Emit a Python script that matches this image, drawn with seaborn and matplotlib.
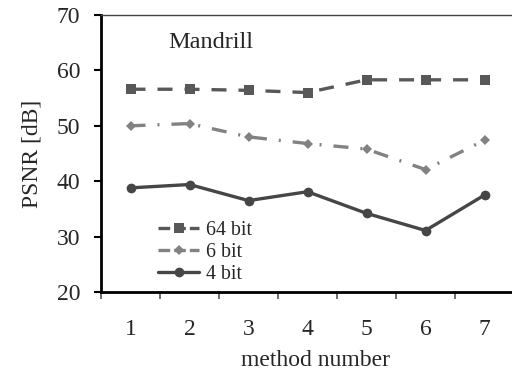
import matplotlib
matplotlib.use("Agg")
import matplotlib.pyplot as plt
import seaborn as sns
import pandas as pd
from matplotlib.ticker import FixedLocator

methods = [1, 2, 3, 4, 5, 6, 7]
psnr_64bit = [56.6, 56.6, 56.4, 56.0, 58.3, 58.3, 58.3]
psnr_6bit = [50.0, 50.4, 48.0, 46.8, 45.8, 42.1, 47.4]
psnr_4bit = [38.8, 39.4, 36.5, 38.1, 34.2, 31.1, 37.5]
series_names = ["64 bit", "6 bit", "4 bit"]
y_ticks = [20, 30, 40, 50, 60, 70]

df = pd.DataFrame({
    "method": methods * 3,
    "psnr": psnr_64bit + psnr_6bit + psnr_4bit,
    "series": [series_names[0]] * 7 + [series_names[1]] * 7 + [series_names[2]] * 7,
})

sns.set_style("white")
plt.rcParams["font.family"] = ["Liberation Serif", "DejaVu Serif"]

fig = plt.figure(figsize=(5.12, 3.74), dpi=100)
ax = fig.add_axes([101 / 512, 1 - 292 / 374, 413 / 512, 277 / 374])

palette = {"64 bit": "#585858", "6 bit": "#828282", "4 bit": "#464646"}
dashes = {"64 bit": (4.5, 3.6), "6 bit": (4.5, 3.6, 0.6, 3.6), "4 bit": ""}
markers = {"64 bit": "s", "6 bit": "D", "4 bit": "o"}

sns.lineplot(data=df, x="method", y="psnr", hue="series", style="series",
             palette=palette, dashes=dashes, markers=markers,
             hue_order=series_names, style_order=series_names,
             linewidth=2.4, markersize=7, markeredgewidth=0, ax=ax)

for line in ax.get_lines():
    if line.get_marker() == "D":
        line.set_markersize(5.5)

ax.set_xlim(0.5, 7.5)
ax.set_ylim(20, 70)
ax.set_yticks(y_ticks)
ax.xaxis.set_major_locator(FixedLocator([m - 0.5 for m in methods] + [7.5]))
ax.xaxis.set_minor_locator(FixedLocator(methods))
ax.set_xticklabels([])
ax.set_xticklabels([str(m) for m in methods], minor=True)
ax.tick_params(axis="x", which="major", direction="out", length=5, width=1.2,
               color="#555555", bottom=True)
ax.tick_params(axis="x", which="minor", length=0, pad=19.5, labelsize=17)
ax.tick_params(axis="y", direction="out", length=5, width=1.5, color="black",
               left=True, pad=10, labelsize=17)

for s in ["left", "bottom"]:
    ax.spines[s].set_color("black")
    ax.spines[s].set_linewidth(2)
ax.spines["top"].set_color("#444444")
ax.spines["top"].set_linewidth(1)
ax.spines["right"].set_visible(False)

ax.set_xlabel("method number", fontsize=17)
ax.xaxis.set_label_coords(0.52, -0.208)
ax.set_ylabel("PSNR [dB]", fontsize=17, labelpad=10)

ax.text(1.64, 65.0, "Mandrill", fontsize=17.5, va="center", ha="left")

leg = ax.legend(loc="lower left", bbox_to_anchor=(0.118, 0.0), frameon=False,
                fontsize=14.3, handlelength=2.1, handletextpad=0.35,
                labelspacing=0.15, borderaxespad=0)
for h in leg.legend_handles:
    h.set_linewidth(2.4)
    if h.get_label() != "4 bit":
        h.set_dashes((3.5, 1.2))

fig.savefig("out.png", dpi=100)
